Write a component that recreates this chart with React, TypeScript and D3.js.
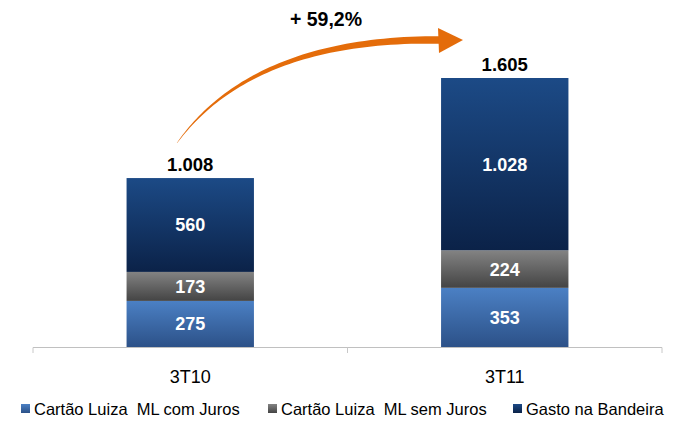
import React from "react";
import * as d3 from "d3";

const categories = ["3T10", "3T11"];
const seriesNames = ["Cartão Luiza  ML com Juros", "Cartão Luiza  ML sem Juros", "Gasto na Bandeira"];
const comJuros = [275, 353];
const semJuros = [173, 224];
const bandeira = [560, 1028];
const totals = ["1.008", "1.605"];
const segmentLabels = [["275", "173", "560"], ["353", "224", "1.028"]];
const growthLabel = "+ 59,2%";

const gradients = [
  { id: "gLight", top: "#4b80c4", bottom: "#2c5188" },
  { id: "gGray", top: "#838383", bottom: "#444444" },
  { id: "gNavy", top: "#1c4a86", bottom: "#0b2248" },
];

const width = 683;
const height = 425;
const font = "'Liberation Sans', Arial, sans-serif";

// legend marker x positions
const legendX = [21, 268, 513];

const App: React.FC = () => {
  const x = d3.scaleBand<string>().domain(categories).range([33, 662]);
  const y = d3.scaleLinear().domain([0, 1605]).range([347, 78]);
  const barW = x.bandwidth() * 0.405;

  const rows = categories.map((c, i) => ({ cat: c, vals: [comJuros[i], semJuros[i], bandeira[i]] }));
  const stack = d3.stack<any>().keys(["0", "1", "2"]).value((d, k) => d.vals[+k]);
  const stacked = stack(rows);

  // tapered arrow along a cubic curve
  const p0 = [177, 143], c1 = [215, 90], c2 = [290, 38], p3 = [440, 40];
  const bez = (t: number) => {
    const a = (1 - t) ** 3, b = 3 * (1 - t) ** 2 * t, c = 3 * (1 - t) * t * t, d = t ** 3;
    return [a * p0[0] + b * c1[0] + c * c2[0] + d * p3[0], a * p0[1] + b * c1[1] + c * c2[1] + d * p3[1]];
  };
  const left: number[][] = [];
  const right: number[][] = [];
  const N = 60;
  for (let i = 0; i <= N; i++) {
    const t = i / N;
    const p = bez(t);
    const q = bez(Math.min(1, t + 0.001));
    const r = bez(Math.max(0, t - 0.001));
    const dx = q[0] - r[0], dy = q[1] - r[1];
    const len = Math.hypot(dx, dy) || 1;
    const w = 0.2 + 3.6 * t;
    left.push([p[0] - (dy / len) * w, p[1] + (dx / len) * w]);
    right.push([p[0] + (dy / len) * w, p[1] - (dx / len) * w]);
  }
  const shaft = d3.line()([...left, ...right.reverse()]) + "Z";
  const head = d3.line()([[438, 28], [463, 40], [439, 53]]) + "Z";

  return (
    <svg width={width} height={height} style={{ position: "absolute", left: 0, top: 0, fontFamily: font }}>
      <defs>
        {gradients.map((g) => (
          <linearGradient key={g.id} id={g.id} x1="0" y1="0" x2="0" y2="1">
            <stop offset="0%" stopColor={g.top} />
            <stop offset="100%" stopColor={g.bottom} />
          </linearGradient>
        ))}
      </defs>

      {/* axis */}
      <line x1={33} x2={662} y1={347.5} y2={347.5} stroke="#c0c0c0" strokeWidth={1.2} />
      {[33, 347.5, 662].map((tx) => (
        <line key={tx} x1={tx} x2={tx} y1={347.5} y2={353} stroke="#c8c8c8" strokeWidth={1} />
      ))}

      {/* bars */}
      {stacked.map((layer, li) =>
        layer.map((d, i) => {
          const cx = (x(categories[i]) as number) + x.bandwidth() / 2;
          const y0 = y(d[0]);
          const y1 = y(d[1]);
          return (
            <g key={`${li}-${i}`}>
              <rect x={cx - barW / 2} y={y1} width={barW} height={y0 - y1} fill={`url(#${gradients[li].id})`} />
              <text x={cx} y={(y0 + y1) / 2 + 6.5} textAnchor="middle" fill="#fff" fontWeight="bold" fontSize={18}>
                {segmentLabels[i][li]}
              </text>
            </g>
          );
        })
      )}

      {/* totals and categories */}
      {categories.map((c, i) => {
        const cx = (x(c) as number) + x.bandwidth() / 2;
        return (
          <g key={c}>
            <text x={cx} y={y(comJuros[i] + semJuros[i] + bandeira[i]) - 7} textAnchor="middle" fontWeight="bold" fontSize={18.5} fill="#000">
              {totals[i]}
            </text>
            <text x={cx} y={383} textAnchor="middle" fontSize={18} fill="#000">
              {c}
            </text>
          </g>
        );
      })}

      {/* growth arrow */}
      <path d={shaft} fill="#e46c0a" />
      <path d={head} fill="#e46c0a" />
      <text x={326} y={26} textAnchor="middle" fontWeight="bold" fontSize={19.5} fill="#000">
        {growthLabel}
      </text>

      {/* legend */}
      {seriesNames.map((s, i) => (
        <g key={s}>
          <rect x={legendX[i]} y={404} width={9} height={9} fill={`url(#${gradients[i].id})`} />
          <text x={legendX[i] + 13} y={415} fontSize={16.5} fill="#000" style={{ whiteSpace: "pre" }}>
            {s}
          </text>
        </g>
      ))}
    </svg>
  );
};

export default App;
